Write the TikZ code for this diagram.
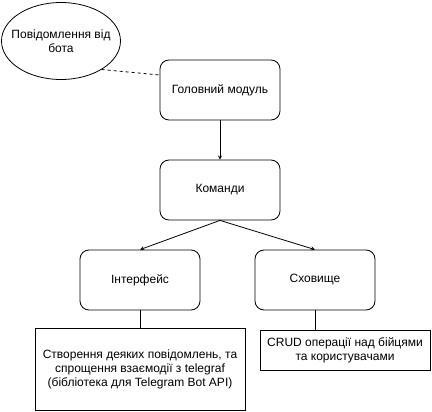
\documentclass[tikz,border=0pt]{standalone}
\usepackage{fontspec}
\setmainfont{Liberation Sans}
\usetikzlibrary{arrows,positioning,shapes.geometric}

\tikzset{
  modbox/.style={draw, rounded corners=9pt, minimum width=120pt, minimum height=60pt, align=center, font=\fontsize{12}{14}\selectfont},
  notebox/.style={draw, align=center, font=\fontsize{12}{14}\selectfont, inner sep=0pt}
}

\begin{document}
\begin{tikzpicture}[x=1pt, y=-1pt, line width=0.8pt]

    \useasboundingbox (0,0) rectangle (432,412);

    \node[draw, ellipse, minimum width=119pt, minimum height=77pt, inner ysep=0pt, inner xsep=-10pt, align=center,
          font=\fontsize{12}{14}\selectfont] (bot_msg) at (61,41) {Повідомлення від\\бота};

    \node[modbox] (main_mod) at (220,90) {Головний модуль};
    \node[modbox] (commands) at (220,190) {Команди};
    \node[modbox] (iface) at (140,280) {Інтерфейс};
    \node[modbox] (storage) at (315,280) {Сховище};

    \node[notebox, minimum width=210pt, minimum height=82pt] (iface_note) at (140,369)
      {Створення деяких повідомлень, та\\спрощення взаємодії з telegraf\\(бібліотека для Telegram Bot API)};
    \node[notebox, minimum width=170pt, minimum height=40pt] (storage_note) at (345,350)
      {CRUD операції над бійцями\\та користувачами};

    \draw [dashed] (bot_msg.-35) -- (main_mod.north west |- 0,75);

    \draw [-stealth] (main_mod) -- (commands);
    \draw [-stealth] (commands.south) -- (iface.north);
    \draw [-stealth] (commands.south) -- (storage.north);

    \draw (iface.south) -- (iface.south |- iface_note.north);
    \draw (storage.south) -- (storage.south |- storage_note.north);

\end{tikzpicture}
\end{document}
